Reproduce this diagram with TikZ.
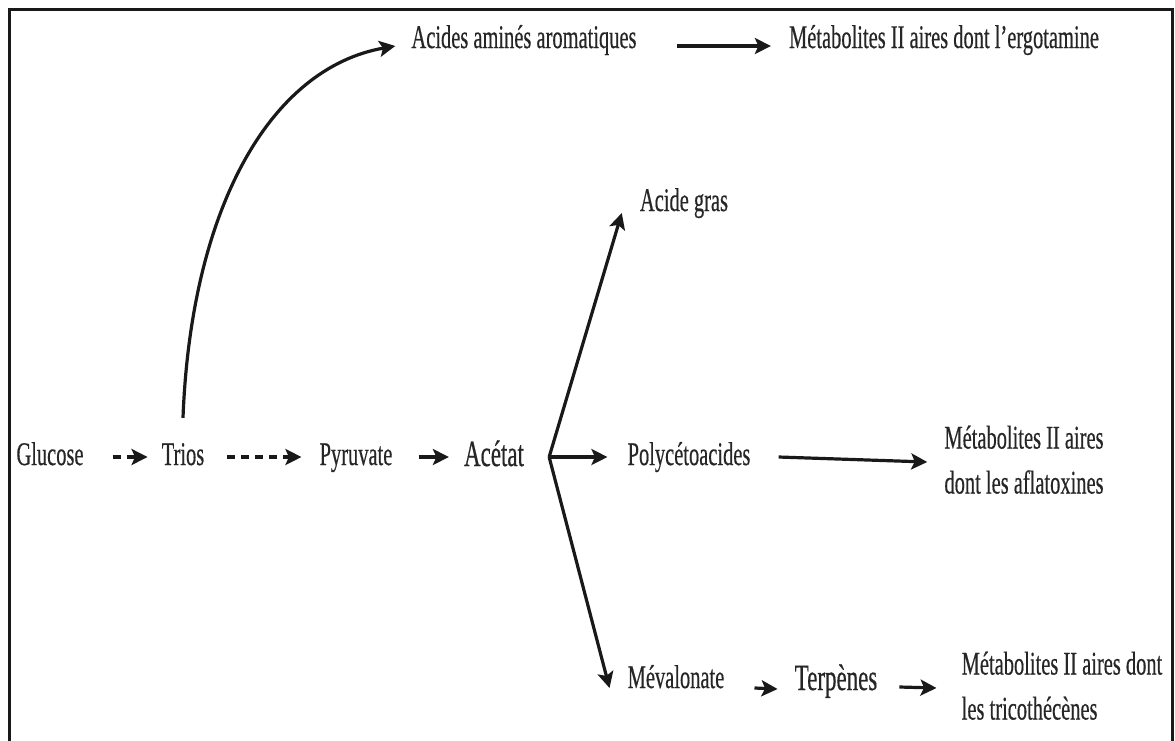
\documentclass[tikz,border=0pt]{standalone}
\usepackage{fontspec}
\setmainfont[FakeBold=0.6]{Liberation Serif}
\usetikzlibrary{arrows.meta,calc}
\newcommand{\lt}[1]{\scalebox{0.62}[1]{#1}}
\tikzset{
  lbl/.style={inner sep=0pt, text=black!85, font=\fontsize{33}{45}\selectfont, text height=23pt, text depth=7pt},
  lblbig/.style={lbl, font=\fontsize{37}{45}\selectfont, text height=26pt, text depth=8pt},
  lbltwo/.style={inner sep=0pt, text=black!85, font=\fontsize{33}{45}\selectfont},
  arr/.style={line width=3.2pt, draw=black!90, -{Stealth[length=16pt,width=16pt,inset=3.5pt]}},
  darr/.style={arr, dash pattern=on 8pt off 6pt},
  frame/.style={line width=3pt, draw=black!90},
}
\begin{document}
\begin{tikzpicture}[x=1pt,y=-1pt]
\useasboundingbox (0,0) rectangle (1175,740);
\draw[frame] (9,760) -- (9,9) -- (1172,9) -- (1172,760);

\node[lbl] (glu) at (50,457) {\lt{Glucose}};
\node[lbl] (tri) at (183,457) {\lt{Trios}};
\node[lbl] (pyr) at (356,457) {\lt{Pyruvate}};
\node[lblbig] (ace) at (494,457) {\lt{Acétat}};
\node[lbl] (gras) at (684,203) {\lt{Acide gras}};
\node[lbl] (poly) at (689,457) {\lt{Polycétoacides}};
\node[lbltwo] (aflat) at (1024,462) {\lt{\begin{tabular}{@{}l@{}}Métabolites II aires\\dont les aflatoxines\end{tabular}}};
\node[lbl] (mev) at (676,680) {\lt{Mévalonate}};
\node[lblbig] (terp) at (836,681) {\lt{Terpènes}};
\node[lbltwo] (tric) at (1062,688) {\lt{\begin{tabular}{@{}l@{}}Métabolites II aires dont\\les tricothécènes\end{tabular}}};
\node[lbl] (acid) at (524,40) {\lt{Acides aminés aromatiques}};
\node[lbl] (ergo) at (944,40) {\lt{Métabolites II aires dont l’ergotamine}};

\coordinate (br) at ([xshift=25pt]ace.east);

\draw[darr] ([xshift=29pt]glu.east) -- ([xshift=-14pt]tri.west);
\draw[darr] ([xshift=23pt]tri.east) -- ([xshift=-18pt]pyr.west);
\draw[arr] ([xshift=26pt]pyr.east) -- ([xshift=-15pt]ace.west);
\draw[arr] (br) -- ([xshift=-18pt,yshift=-10pt]gras.west);
\draw[arr] (br) -- ([xshift=-20pt]poly.west);
\draw[arr] (br) -- ([xshift=-18pt,yshift=-8pt]mev.west);
\draw[arr] ([xshift=28pt]poly.east) -- ([xshift=-17pt]aflat.west);
\draw[arr] ([xshift=30pt,yshift=-8pt]mev.east) -- ([xshift=-17pt,yshift=-8pt]terp.west);
\draw[arr] ([xshift=22pt,yshift=-6pt]terp.east) -- ([xshift=-25pt]tric.west);
\draw[arr] ([yshift=24pt]tri.north) .. controls +(8,-210) and +(-125,22) .. ([xshift=-16pt,yshift=-6pt]acid.west);
\draw[arr] ([xshift=40pt,yshift=-6pt]acid.east) -- ([xshift=-18pt,yshift=-6pt]ergo.west);
\end{tikzpicture}
\end{document}
